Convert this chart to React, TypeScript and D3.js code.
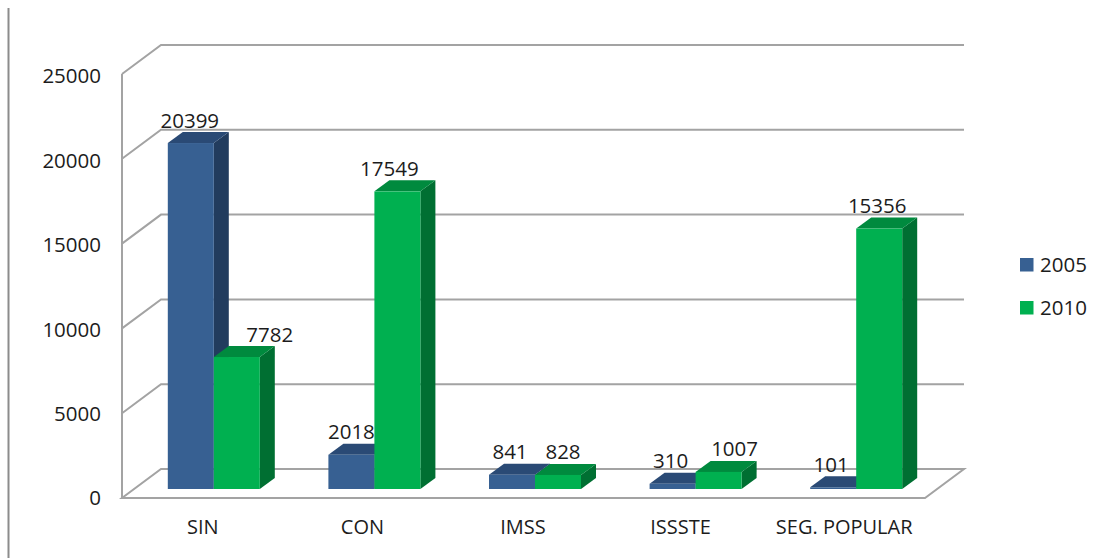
import React from "react";
import * as d3 from "d3";

const categories = ["SIN", "CON", "IMSS", "ISSSTE", "SEG. POPULAR"];
const seriesNames = ["2005", "2010"];
const values2005 = [20399, 2018, 841, 310, 101];
const values2010 = [7782, 17549, 828, 1007, 15356];
const tickValues = [0, 5000, 10000, 15000, 20000, 25000];

// hand-placed label offsets of the original (dx from bar centre)
const nudge2005 = [-1, 0, -2, -2, -2];
const nudge2010 = [33, -8, 5, 16, -2];
const categoryNudge = [1, 0, 0, -3, 0];

const colors = {
  front: ["#376092", "#00b050"],
  top: ["#2a4a75", "#008a3e"],
  side: ["#223c5e", "#006f32"],
};
const GRID = "#a3a3a3";
const TEXT = "#1c1c1c";
const FONT = "'Open Sans', 'Noto Sans', sans-serif";
const DX = 15;
const DY = -11;
const WALL_DX = 39;
const WALL_DY = -29;

const W = 1102;
const H = 558;
const FLOOR_Y = 498;
const WALL_X = 122;
const FLOOR_RIGHT = 925;

const y = d3.scaleLinear().domain([0, 25000]).range([0, 424]);
const yLabel = d3.scaleLinear().domain([0, 25000]).range([500, 78]);
const x0 = d3.scaleBand<string>().domain(categories).range([122.5, 925.5]);
const BAR_W = 46;
const BAR_BASE = 489;
const BAR_SHIFT = 12;

function Bar({ x, v, s }: { x: number; v: number; s: number }) {
  const h = y(v);
  const top = BAR_BASE - h;
  const pts = (a: number[][]) => a.map((p) => p.join(",")).join(" ");
  return (
    <g>
      <polygon
        fill={colors.side[s]}
        points={pts([[x + BAR_W, top], [x + BAR_W + DX, top + DY], [x + BAR_W + DX, BAR_BASE + DY], [x + BAR_W, BAR_BASE]])}
      />
      <polygon
        fill={colors.top[s]}
        points={pts([[x, top], [x + DX, top + DY], [x + BAR_W + DX, top + DY], [x + BAR_W, top]])}
      />
      <rect x={x} y={top} width={BAR_W} height={h} fill={colors.front[s]} />
    </g>
  );
}

export default function App() {
  const cx = (c: string) => x0(c)! + x0.bandwidth() / 2 - 1;
  const all = [values2005, values2010];
  const nudges = [nudge2005, nudge2010];
  return (
    <svg width={W} height={H} style={{ position: "absolute", left: 0, top: 0, display: "block" }} fontFamily={FONT}>
      <rect width={W} height={H} fill="#fff" />
      <line x1={8.5} x2={8.5} y1={8} y2={H} stroke="#8c8c8c" strokeWidth={2} />

      <polygon
        points={`${WALL_X},${FLOOR_Y} ${FLOOR_RIGHT},${FLOOR_Y} ${FLOOR_RIGHT + WALL_DX},${FLOOR_Y + WALL_DY} ${WALL_X + WALL_DX},${FLOOR_Y + WALL_DY}`}
        fill="none"
        stroke={GRID}
        strokeWidth={2}
      />
      <line x1={WALL_X} x2={WALL_X} y1={FLOOR_Y - y(25000)} y2={FLOOR_Y} stroke={GRID} strokeWidth={2} />
      {tickValues.map((t) => {
        const yy = FLOOR_Y - y(t);
        return (
          <g key={t}>
            {t > 0 && (
              <path
                d={`M${WALL_X},${yy} L${WALL_X + WALL_DX},${yy + WALL_DY} H${FLOOR_RIGHT + WALL_DX}`}
                fill="none"
                stroke={GRID}
                strokeWidth={2}
              />
            )}
            <text x={101} y={yLabel(t)} textAnchor="end" dominantBaseline="middle" fontSize={20.5} fill={TEXT}>
              {t}
            </text>
          </g>
        );
      })}

      {categories.map((c, i) => (
        <g key={c}>
          {all.map((vals, s) => (
            <Bar key={s} x={cx(c) + BAR_SHIFT - BAR_W + s * BAR_W} v={vals[i]} s={s} />
          ))}
        </g>
      ))}

      {categories.map((c, i) =>
        all.map((vals, s) => {
          const bx = cx(c) + BAR_SHIFT - BAR_W + s * BAR_W + BAR_W / 2;
          return (
            <text
              key={c + s}
              x={bx + nudges[s][i]}
              y={BAR_BASE - y(vals[i]) + DY - 10}
              textAnchor="middle"
              dominantBaseline="middle"
              fontSize={20.5}
              fill={TEXT}
            >
              {vals[i]}
            </text>
          );
        })
      )}

      {categories.map((c, i) => (
        <text key={c} x={cx(c) + categoryNudge[i]} y={529} textAnchor="middle" dominantBaseline="middle" fontSize={20} fill={TEXT}>
          {c}
        </text>
      ))}

      {seriesNames.map((n, i) => {
        const ly = 265 + i * 43;
        return (
          <g key={n}>
            <rect x={1020} y={ly - 7} width={13.5} height={13.5} fill={colors.front[i]} />
            <text x={1040} y={ly + 2} dominantBaseline="middle" fontSize={20.5} fill={TEXT}>
              {n}
            </text>
          </g>
        );
      })}
    </svg>
  );
}
